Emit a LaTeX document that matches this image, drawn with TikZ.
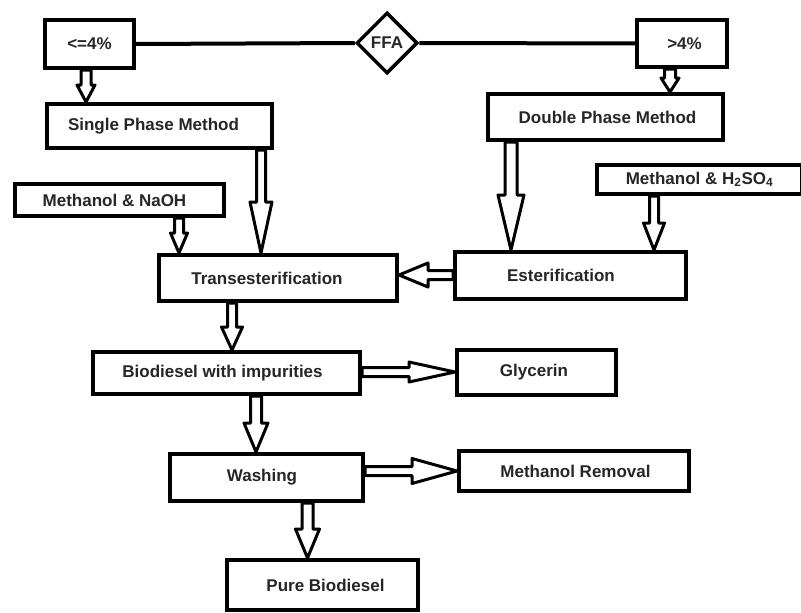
\documentclass[tikz,border=0pt]{standalone}
\usepackage{fontspec}
\setmainfont{Liberation Sans}
\usetikzlibrary{calc,shapes.geometric}
\def\fs{5pt}\def\fh{10pt}\def\fl{18pt}
\newcommand{\tshift}[1]{\hspace*{#1}}
\tikzset{
  box/.style={draw, line width=4pt, rectangle, inner sep=0pt, fill=white,
    font=\fontsize{17}{20}\selectfont\bfseries, text=black!85},
  lnk/.style={draw, line width=4pt},
  fatshaft/.store in=\fs, fathead/.store in=\fh, fatlen/.store in=\fl,
  fat/.style={draw, line width=3pt, fill=white, line join=round,
    to path={
      ($(\tikztotarget)!\fl!(\tikztostart)$) coordinate (fatH)
      ($(\tikztostart)!\fs!90:(\tikztotarget)$)
      -- ($(fatH)!\fs!-90:(\tikztostart)$)
      -- ($(fatH)!\fh!-90:(\tikztostart)$)
      -- (\tikztotarget)
      -- ($(fatH)!\fh!90:(\tikztostart)$)
      -- ($(fatH)!\fs!90:(\tikztostart)$)
      -- ($(\tikztostart)!\fs!-90:(\tikztotarget)$)
      -- cycle}},
}
\begin{document}
\begin{tikzpicture}[x=1pt,y=-1pt]
\useasboundingbox (0,0) rectangle (801,613);
\clip (0,0) rectangle (801,613);
\fill[white] (0,0) rectangle (801,613);
% nodes
\node[box, minimum width=89pt, minimum height=48pt] (lt) at (89.5,44) {<=4\%};
\node[box, minimum width=90pt, minimum height=47pt] (gt) at (682,43.5) {\tshift{5pt}>4\%};
\node[box, diamond, line width=3.5pt, minimum width=61pt, minimum height=61pt] (ffa) at (387,43) {FFA};
\node[box, minimum width=225pt, minimum height=44pt] (single) at (159.5,126) {\tshift{-12pt}Single Phase Method};
\node[box, minimum width=235pt, minimum height=46pt] (double) at (605.5,117) {\tshift{4pt}Double Phase Method};
\node[box, minimum width=209pt, minimum height=32pt] (naoh) at (119.5,200) {\tshift{-10pt}Methanol \& NaOH};
\node[box, minimum width=205pt, minimum height=29pt] (hso) at (699.5,179.5) {Methanol \& H\textsubscript{2}SO\textsubscript{4}};
\node[box, minimum width=238pt, minimum height=46pt] (trans) at (278,278) {\tshift{-22pt}Transesterification};
\node[box, minimum width=231pt, minimum height=47pt] (ester) at (570.5,275.5) {\tshift{-19pt}Esterification};
\node[box, minimum width=267pt, minimum height=42pt] (bio) at (226.5,373) {\tshift{-8pt}Biodiesel with impurities};
\node[box, minimum width=159pt, minimum height=45pt] (gly) at (536.5,372.5) {\tshift{-5pt}Glycerin};
\node[box, minimum width=193pt, minimum height=47pt] (wash) at (266.5,477.5) {\tshift{-9pt}Washing};
\node[box, minimum width=230pt, minimum height=40pt] (mr) at (574,471) {\tshift{3pt}Methanol Removal};
\node[box, minimum width=191pt, minimum height=50pt] (pure) at (322.5,585) {\tshift{6pt}Pure Biodiesel};
% plain connectors
\draw[lnk] (lt.east) -- (ffa.west);
\draw[lnk] (ffa.east) -- (gt.west);
% arrow end points
\coordinate (a1s) at (lt.south -| 86,0);      \coordinate (a1e) at (single.north -| 86,0);
\coordinate (a2s) at (gt.south -| 670,0);     \coordinate (a2e) at (double.north -| 670,0);
\coordinate (a3s) at (single.south -| 261,0); \coordinate (a3e) at (trans.north -| 261,0);
\coordinate (a4s) at (naoh.south -| 179,0);   \coordinate (a4e) at (trans.north -| 179,0);
\coordinate (a5s) at (double.south -| 511,0); \coordinate (a5e) at (ester.north -| 511,0);
\coordinate (a6s) at (hso.south -| 654,0);    \coordinate (a6e) at (ester.north -| 654,0);
\coordinate (a7s) at (ester.west |- 0,275);   \coordinate (a7e) at (trans.east |- 0,275);
\coordinate (a8s) at (trans.south -| 232,0);  \coordinate (a8e) at (bio.north -| 232,0);
\coordinate (a9s) at (bio.south -| 256,0);    \coordinate (a9e) at (wash.north -| 256,0);
\coordinate (a10s) at (bio.east |- 0,372);    \coordinate (a10e) at (gly.west |- 0,372);
\coordinate (a11s) at (wash.east |- 0,471);   \coordinate (a11e) at (mr.west |- 0,471);
\coordinate (a12s) at (wash.south -| 307.5,0);\coordinate (a12e) at (pure.north -| 307.5,0);
% fat arrows
\draw[fat, fatshaft=5pt,   fathead=9pt,    fatlen=17pt] (a1s) to (a1e);
\draw[fat, fatshaft=5.5pt, fathead=9pt,    fatlen=14pt] (a2s) to (a2e);
\draw[fat, fatshaft=4.5pt, fathead=11pt,   fatlen=51pt] (a3s) to (a3e);
\draw[fat, fatshaft=4.5pt, fathead=8.5pt,  fatlen=20pt] (a4s) to (a4e);
\draw[fat, fatshaft=6pt,   fathead=13pt,   fatlen=55pt] (a5s) to (a5e);
\draw[fat, fatshaft=4.5pt, fathead=10.5pt, fatlen=27pt] (a6s) to (a6e);
\draw[fat, fatshaft=4.5pt, fathead=12pt,   fatlen=29pt] (a7s) to (a7e);
\draw[fat, fatshaft=4.5pt, fathead=10.5pt, fatlen=23pt] (a8s) to (a8e);
\draw[fat, fatshaft=5.5pt, fathead=12pt,   fatlen=29pt] (a9s) to (a9e);
\draw[fat, fatshaft=4.5pt, fathead=10pt,   fatlen=46pt] (a10s) to (a10e);
\draw[fat, fatshaft=4.5pt, fathead=12.5pt, fatlen=45pt] (a11s) to (a11e);
\draw[fat, fatshaft=5.5pt, fathead=12pt,   fatlen=29pt] (a12s) to (a12e);
\end{tikzpicture}
\end{document}
